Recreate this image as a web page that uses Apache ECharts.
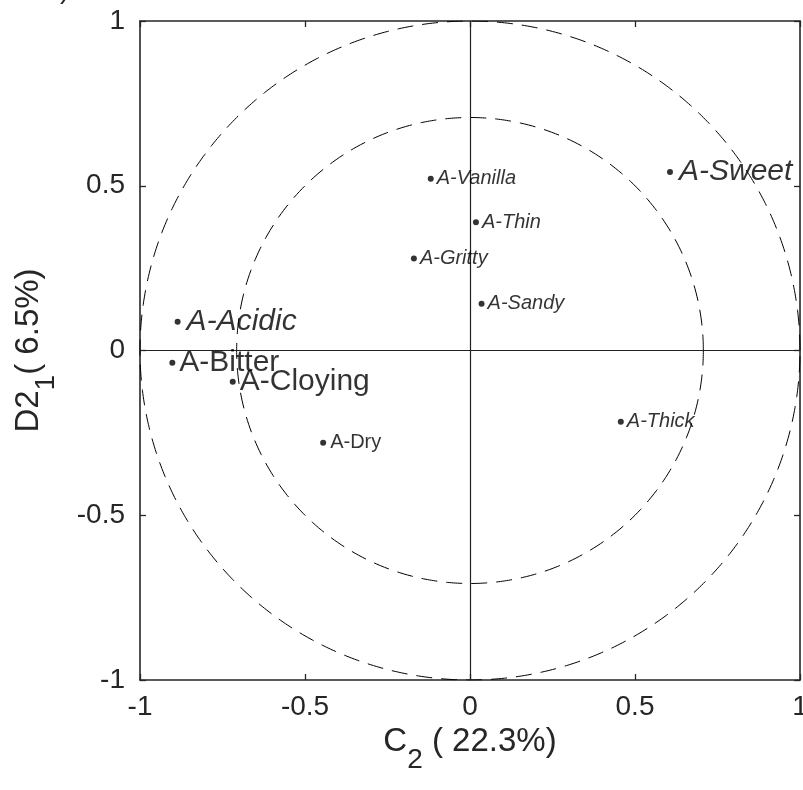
<!DOCTYPE html>
<html>
<head>
<meta charset="utf-8">
<title>Correlation circle</title>
<script src="https://cdn.jsdelivr.net/npm/echarts@6/dist/echarts.min.js"></script>
<style>
  html, body { margin: 0; padding: 0; background: #fff; overflow: hidden; }
  #chart { width: 803px; height: 790px; }
</style>
</head>
<body>
<div id="chart"></div>
<script>
// Attribute loadings on the two displayed dimensions
const attributes = ['A-Sweet', 'A-Vanilla', 'A-Thin', 'A-Gritty', 'A-Sandy',
                    'A-Acidic', 'A-Bitter', 'A-Cloying', 'A-Dry', 'A-Thick'];
const dimC2  = [0.606, -0.119, 0.018, -0.170, 0.035, -0.886, -0.902, -0.719, -0.445, 0.457];
const dimD21 = [0.542,  0.521, 0.389,  0.279, 0.142,  0.087, -0.037, -0.095, -0.280, -0.216];

// Reference circles (radius 1 and radius sqrt(1/2))
const circleRadii = [1, Math.SQRT1_2];

// Axis ticks
const tickValues = [-1, -0.5, 0, 0.5, 1];

// Label appearance per attribute
const labelKind = {
  'A-Sweet': 'bigItalic', 'A-Acidic': 'bigItalic',
  'A-Bitter': 'big', 'A-Cloying': 'big',
  'A-Vanilla': 'smallItalic', 'A-Thin': 'smallItalic', 'A-Gritty': 'smallItalic',
  'A-Sandy': 'smallItalic', 'A-Thick': 'smallItalic',
  'A-Dry': 'small'
};
const FONT = '"Liberation Sans", Arial, Helvetica, sans-serif';
const kindStyle = {
  bigItalic:   { fontSize: 30, fontStyle: 'italic', distance: 6 },
  big:         { fontSize: 30, fontStyle: 'normal', distance: 4 },
  smallItalic: { fontSize: 20, fontStyle: 'italic', distance: 3 },
  small:       { fontSize: 20, fontStyle: 'normal', distance: 4 }
};

function circlePoints(r) {
  const pts = [];
  const n = 720;
  for (let i = 0; i <= n; i++) {
    const a = (i / n) * 2 * Math.PI;
    pts.push([r * Math.cos(a), r * Math.sin(a)]);
  }
  return pts;
}

const points = attributes.map((name, i) => {
  const s = kindStyle[labelKind[name]];
  return {
    name: name,
    value: [dimC2[i], dimD21[i]],
    label: {
      show: true,
      position: 'right',
      distance: s.distance,
      formatter: name,
      fontSize: s.fontSize,
      fontStyle: s.fontStyle,
      fontFamily: FONT,
      color: '#000'
    }
  };
});

const AXIS_COLOR = '#262626';
const baseAxis = {
  type: 'value',
  min: tickValues[0],
  max: tickValues[tickValues.length - 1],
  interval: tickValues[1] - tickValues[0],
  splitLine: { show: false },
  axisLine: { show: true, onZero: false, lineStyle: { color: AXIS_COLOR, width: 1.6 } },
  axisTick: { show: true, inside: true, length: 6, lineStyle: { color: AXIS_COLOR, width: 1.3 } }
};
const tickLabel = {
  show: true,
  color: AXIS_COLOR,
  fontSize: 28,
  fontFamily: FONT,
  showMinLabel: true,
  showMaxLabel: true
};

// Axis titles: subscript pushed down by its top padding
const nameRich = {
  main: { fontSize: 33, fontFamily: FONT, color: AXIS_COLOR, lineHeight: 36,
          verticalAlign: 'top' },
  sub:  { fontSize: 28, fontFamily: FONT, color: AXIS_COLOR, lineHeight: 28,
          verticalAlign: 'top', padding: [20, 0, 0, 0] }
};

const chart = echarts.init(document.getElementById('chart'), null, { renderer: 'canvas' });

chart.setOption({
  animation: false,
  backgroundColor: '#fff',
  grid: { left: 140, top: 21, right: 3, bottom: 110, containLabel: false, outerBoundsMode: 'none' },
  graphic: [{
    type: 'text', left: 60, top: -24,
    style: { text: ')', fontSize: 28, fontFamily: FONT, fill: AXIS_COLOR }
  }],
  xAxis: [
    Object.assign({}, baseAxis, {
      position: 'bottom',
      axisLabel: Object.assign({}, tickLabel, { margin: 13 }),
      name: '{main|C}{sub|2}{main| ( 22.3%)}',
      nameLocation: 'middle',
      nameGap: 37,
      nameTextStyle: { rich: nameRich }
    }),
    Object.assign({}, baseAxis, { position: 'top', axisLabel: { show: false } })
  ],
  yAxis: [
    Object.assign({}, baseAxis, {
      position: 'left',
      axisLabel: Object.assign({}, tickLabel, { margin: 15 }),
      name: '{main|D2}{sub|1}{main|( 6.5%)}',
      nameLocation: 'middle',
      nameRotate: 90,
      nameGap: 92,
      nameTextStyle: { rich: nameRich }
    }),
    Object.assign({}, baseAxis, { position: 'right', axisLabel: { show: false } })
  ],
  series: circleRadii.map(r => ({
    type: 'line',
    data: circlePoints(r),
    showSymbol: false,
    symbol: 'none',
    smooth: false,
    silent: true,
    clip: true,
    lineStyle: { color: '#000', width: 1, type: [16, 9] }
  })).concat([{
    type: 'scatter',
    data: points,
    symbol: 'circle',
    symbolSize: 6,
    itemStyle: { color: '#000' },
    clip: false,
    z: 5,
    markLine: {
      silent: true,
      symbol: 'none',
      label: { show: false },
      lineStyle: { color: '#222', width: 1.2, type: 'solid' },
      data: [{ xAxis: 0 }, { yAxis: 0 }]
    }
  }])
});
</script>
</body>
</html>
